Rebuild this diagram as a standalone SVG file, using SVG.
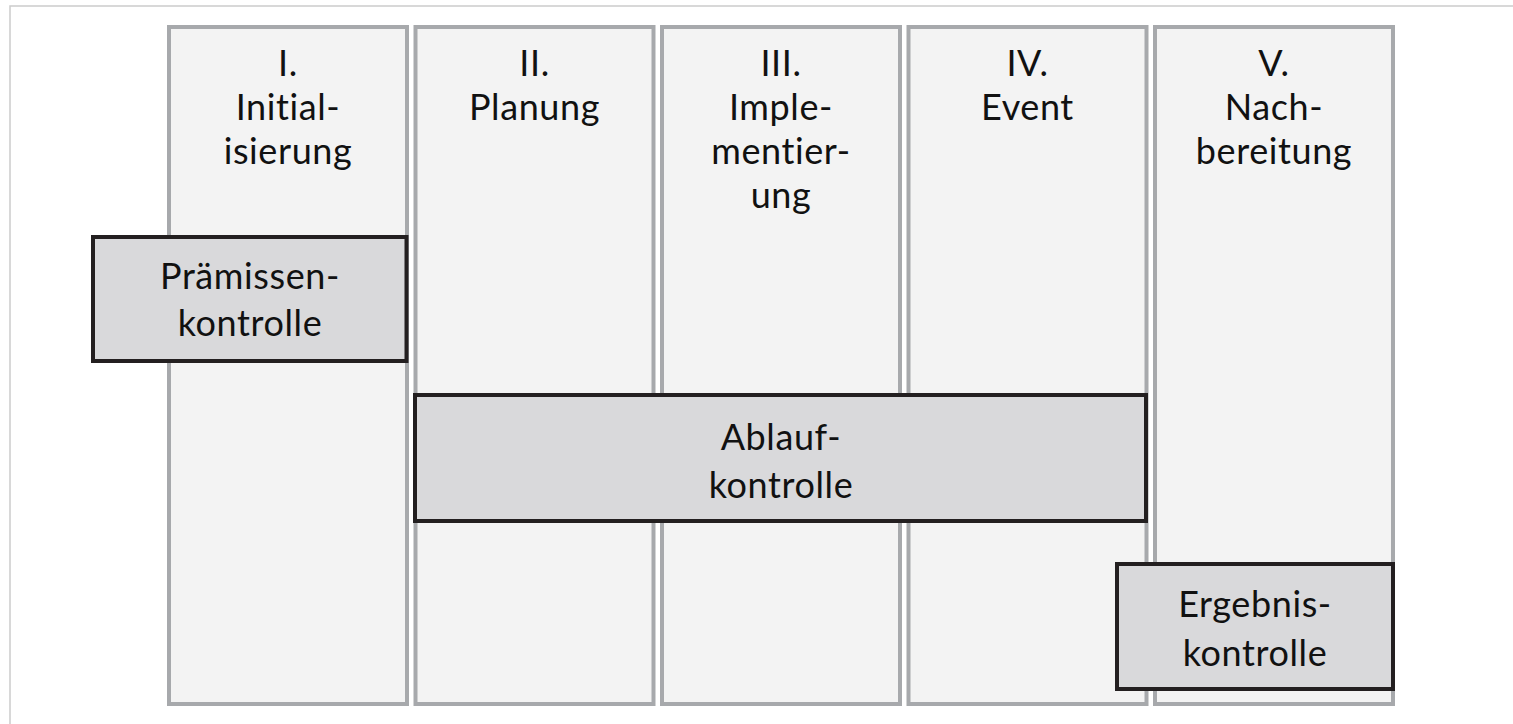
<svg xmlns="http://www.w3.org/2000/svg" width="1513" height="724" viewBox="0 0 1513 724">
  <style>
    .frame { fill: #ffffff; stroke: #cccccc; stroke-width: 1.5; }
    .phase { fill: #f3f3f3; stroke: #a7a9ac; stroke-width: 4; }
    .ctrl { fill: #d9d9db; stroke: #231f20; stroke-width: 4; }
    text { font-family: Lato, "Open Sans", "Liberation Sans", sans-serif; font-size: 36px; letter-spacing: 0.6px; font-variant-ligatures: none; font-feature-settings: "liga" 0, "clig" 0; fill: #111111; text-anchor: middle; }
  </style>
  <rect width="1513" height="724" fill="#ffffff"/>
  <rect class="frame" x="10" y="6" width="1520" height="740"/>

  <!-- phase columns -->
  <g id="phase-1">
    <rect class="phase" x="169" y="27" width="238" height="677"/>
    <text x="288" y="76">I.</text>
    <text x="288" y="120">Initial-</text>
    <text x="288" y="164">isierung</text>
  </g>
  <g id="phase-2">
    <rect class="phase" x="415.5" y="27" width="238" height="677"/>
    <text x="534.5" y="76">II.</text>
    <text x="534.5" y="120">Planung</text>
  </g>
  <g id="phase-3">
    <rect class="phase" x="662" y="27" width="238" height="677"/>
    <text x="781" y="76">III.</text>
    <text x="781" y="120">Imple-</text>
    <text x="781" y="164">mentier-</text>
    <text x="781" y="208">ung</text>
  </g>
  <g id="phase-4">
    <rect class="phase" x="908.5" y="27" width="238" height="677"/>
    <text x="1027.5" y="76">IV.</text>
    <text x="1027.5" y="120">Event</text>
  </g>
  <g id="phase-5">
    <rect class="phase" x="1155" y="27" width="238" height="677"/>
    <text x="1274" y="76">V.</text>
    <text x="1274" y="120">Nach-</text>
    <text x="1274" y="164">bereitung</text>
  </g>

  <!-- control types -->
  <g id="praemissenkontrolle">
    <rect class="ctrl" x="93" y="237" width="313.5" height="124"/>
    <text x="250" y="289">Prämissen-</text>
    <text x="250" y="336">kontrolle</text>
  </g>
  <g id="ablaufkontrolle">
    <rect class="ctrl" x="415" y="395" width="731" height="126"/>
    <text x="781" y="450">Ablauf-</text>
    <text x="781" y="498">kontrolle</text>
  </g>
  <g id="ergebniskontrolle">
    <rect class="ctrl" x="1117" y="564" width="276" height="125"/>
    <text x="1255" y="617">Ergebnis-</text>
    <text x="1255" y="666">kontrolle</text>
  </g>

  <g id="connectors"/>
</svg>
